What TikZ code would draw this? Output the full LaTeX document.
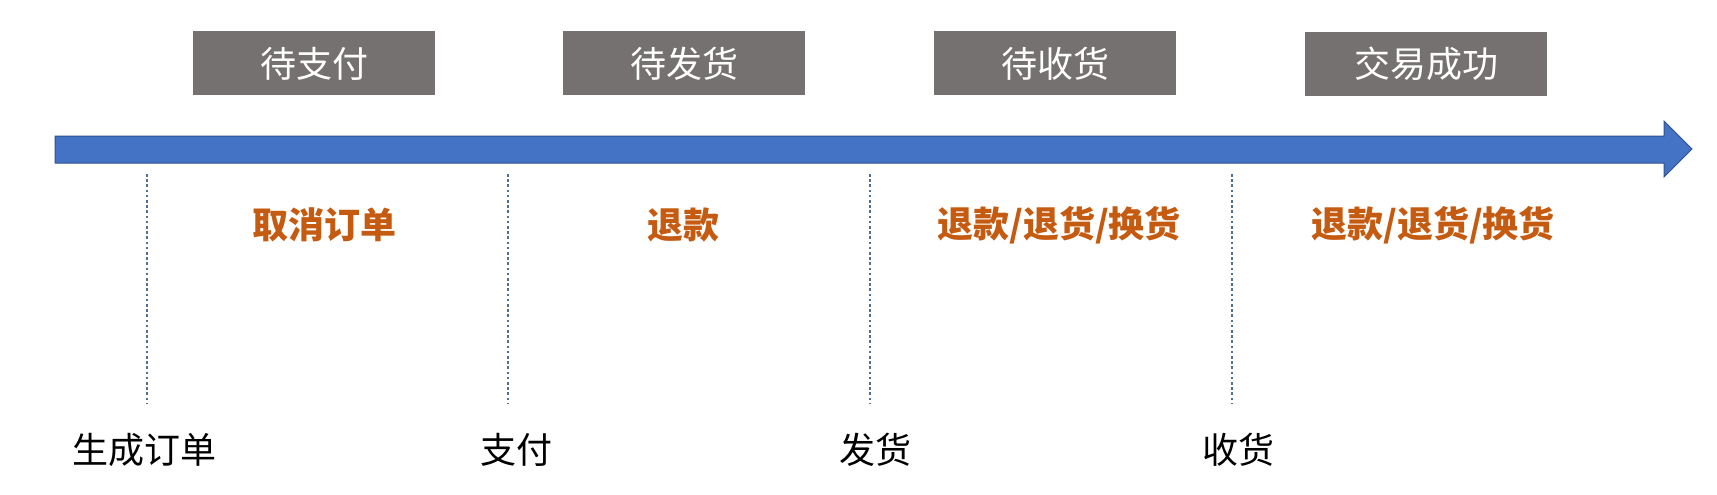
\documentclass[tikz,border=0pt]{standalone}
\usepackage{fontspec}
\setmainfont{Noto Sans CJK SC}
\definecolor{boxgray}{RGB}{118,113,113}
\definecolor{barblue}{RGB}{68,114,196}
\definecolor{barline}{RGB}{47,82,143}
\definecolor{dotblue}{RGB}{80,112,145}
\definecolor{actorange}{RGB}{197,90,17}
\begin{document}
\begin{tikzpicture}[x=1pt,y=-1pt,
  statebox/.style={fill=boxgray,minimum width=242pt,minimum height=64pt,inner sep=0pt,text=white,font=\fontsize{36}{40}\selectfont},
  action/.style={text=actorange,inner sep=0pt,font=\fontsize{36}{40}\selectfont\bfseries},
  event/.style={text=black,inner sep=0pt,font=\fontsize{36}{40}\selectfont},
  divider/.style={draw=dotblue,line width=2.6pt,dash pattern=on 2.6pt off 2.6pt}]
\useasboundingbox (0,0) rectangle (1717,495);
% timeline arrow
\draw[fill=barblue,draw=barline,line width=1pt]
  (55,136) -- (1664,136) -- (1664,121) -- (1692,149) -- (1664,177) -- (1664,163) -- (55,163) -- cycle;
% state boxes
\node[statebox] (s1) at (314,63.5) {待支付};
\node[statebox] (s2) at (684,63.5) {待发货};
\node[statebox] (s3) at (1055,63.5) {待收货};
\node[statebox] (s4) at (1426,64) {交易成功};
% dividers
\coordinate (d1t) at (147,174); \coordinate (d1b) at (147,403);
\coordinate (d2t) at (508,174); \coordinate (d2b) at (508,403);
\coordinate (d3t) at (870,174); \coordinate (d3b) at (870,403);
\coordinate (d4t) at (1232,174); \coordinate (d4b) at (1232,403);
\draw[divider] (d1t) -- (d1b);
\draw[divider] (d2t) -- (d2b);
\draw[divider] (d3t) -- (d3b);
\draw[divider] (d4t) -- (d4b);
% actions
\node[action] (a1) at (324,225) {取消订单};
\node[action] (a2) at (683,225) {退款};
\node[action] (a3) at (1059,225) {退款/退货/换货};
\node[action] (a4) at (1433,225) {退款/退货/换货};
% events
\node[event] (e1) at (144,450) {生成订单};
\node[event] (e2) at (516,450) {支付};
\node[event] (e3) at (875,450) {发货};
\node[event] (e4) at (1238,450) {收货};
\end{tikzpicture}
\end{document}
